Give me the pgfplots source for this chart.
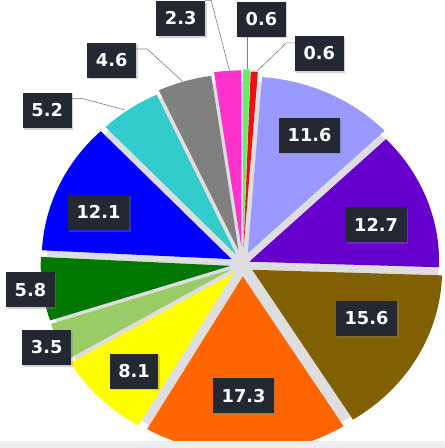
\documentclass[border=0pt]{standalone}
\usepackage{fontspec}
\setmainfont{DejaVu Sans}
\usepackage{pgfplots}
\pgfplotsset{compat=1.18}
\usetikzlibrary{shadows}
\definecolor{c1}{RGB}{102,238,102}
\definecolor{c2}{RGB}{238,17,17}
\definecolor{c3}{RGB}{153,153,255}
\definecolor{c4}{RGB}{102,0,204}
\definecolor{c5}{RGB}{128,96,0}
\definecolor{c6}{RGB}{255,102,0}
\definecolor{c7}{RGB}{255,255,0}
\definecolor{c8}{RGB}{153,204,102}
\definecolor{c9}{RGB}{0,119,0}
\definecolor{c10}{RGB}{0,0,255}
\definecolor{c11}{RGB}{51,204,204}
\definecolor{c12}{RGB}{128,128,128}
\definecolor{c13}{RGB}{255,51,204}
\definecolor{labbg}{RGB}{35,40,50}
\definecolor{gapgray}{RGB}{222,222,224}
\definecolor{bandgray}{RGB}{236,237,240}
% #1 cumulative value before slice, #2 value, #3 colour, #4 explode offset
\newcommand{\pieslice}[4]{%
  \pgfmathsetmacro{\aS}{90-3.6*#1}%
  \pgfmathsetmacro{\aE}{90-3.6*(#1+#2)}%
  \pgfmathsetmacro{\aM}{(\aS+\aE)/2}%
  \pgfmathsetmacro{\ox}{239+#4*cos(\aM)}%
  \pgfmathsetmacro{\oy}{181+#4*sin(\aM)}%
  \edef\temp{\noexpand\addplot[fill=#3, draw=none, domain=\aE:\aS, samples=60, variable=\noexpand\t]
    ({\ox+187*cos(\noexpand\t)}, {\oy+174*sin(\noexpand\t)}) -- (\ox,\oy) -- cycle;}%
  \temp
}
\begin{document}
\begin{tikzpicture}
\begin{axis}[scale only axis, width=438pt, height=448pt,
  xmin=0, xmax=438, ymin=0, ymax=448, hide axis, clip=true]
\addplot[fill=gapgray, draw=none, domain=0:360, samples=120, variable=\t]
  ({239+193*cos(\t)}, {181+180*sin(\t)}) -- cycle;
\pieslice{0}{0.6}{c1}{18}
\pieslice{0.6}{0.6}{c2}{16}
\pieslice{1.2}{11.6}{c3}{12}
\pieslice{12.8}{12.7}{c4}{7}
\pieslice{25.5}{15.6}{c5}{11}
\pieslice{41.1}{17.3}{c6}{12}
\pieslice{58.4}{8.1}{c7}{12}
\pieslice{66.5}{3.5}{c8}{12}
\pieslice{70}{5.8}{c9}{12}
\pieslice{75.8}{12.1}{c10}{12}
\pieslice{87.9}{5.2}{c11}{11}
\pieslice{93.1}{4.6}{c12}{14}
\pieslice{97.7}{2.3}{c13}{17}
% leader lines
\addplot[gray, line width=0.6pt] coordinates {(202,441) (208,441) (226,372)};
\addplot[gray, line width=0.6pt] coordinates {(244,405) (244,373)};
\addplot[gray, line width=0.6pt] coordinates {(291,399) (282,399) (253,371)};
\addplot[gray, line width=0.6pt] coordinates {(133,393) (145,393) (180,361)};
\addplot[gray, line width=0.6pt] coordinates {(70,344) (82,344) (123,333)};
% labels
\addplot[draw=none, mark=none, nodes near coords, point meta=explicit symbolic,
  nodes near coords style={anchor=center, fill=labbg, text=white,
    font=\bfseries\fontsize{17.5}{20}\selectfont, inner xsep=8.5pt, inner ysep=11pt,
    text height=12.6pt, text depth=0pt,
    drop shadow={shadow xshift=1.5pt, shadow yshift=-1.5pt, opacity=0.35}}]
  table[meta=l] {
x y l
257.5 422.5 0.6
314.5 388.5 0.6
305 308 11.6
370.5 220 12.7
361 127.5 15.6
240 51.5 17.3
132 75.5 8.1
46 99 3.5
30 156 5.8
97 232 12.1
46.5 332.5 5.2
110 382 4.6
178 423 2.3
};
\addplot[fill=bandgray, draw=none] coordinates {(0,0) (438,0) (438,7) (0,7)} -- cycle;
\end{axis}
\end{tikzpicture}
\end{document}
